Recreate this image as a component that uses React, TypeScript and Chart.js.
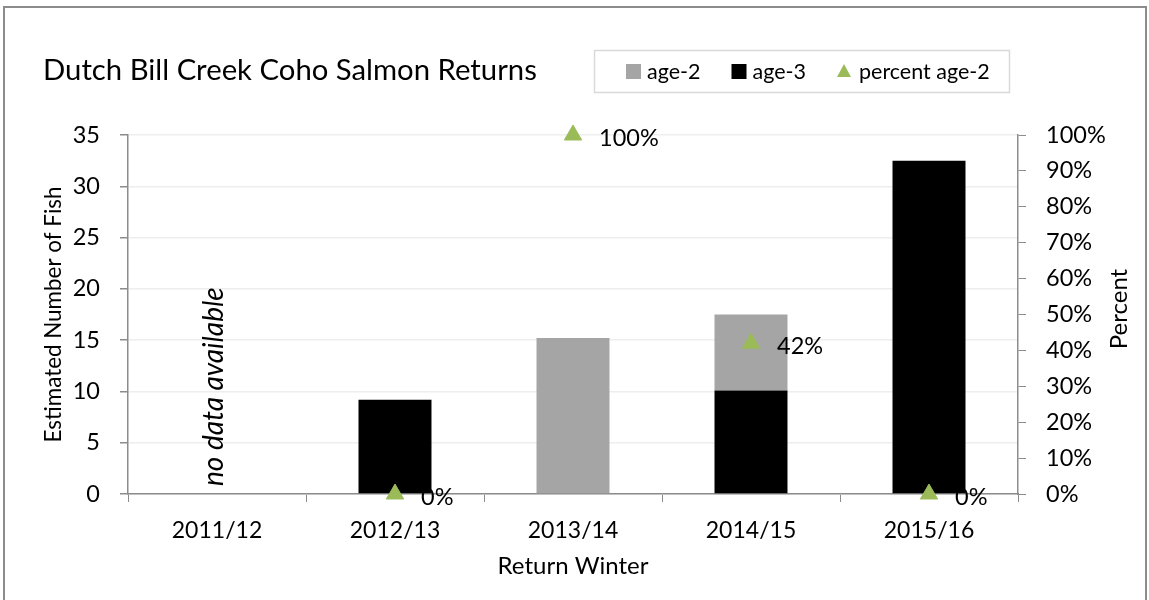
import React, { useEffect, useRef } from "react";
import { Chart, registerables } from "chart.js";

Chart.register(...registerables);

// ---- data ----
const categories = ["2011/12", "2012/13", "2013/14", "2014/15", "2015/16"];
const age3Values = [null, 9.2, 0, 10.1, 32.5];
const age2Values = [null, 0, 15.2, 7.4, 0];
const percentAge2 = [null, 0, 1, 0.42, 0];

const fishAxisMin = 0;
const fishAxisMax = 35;
const fishAxisStep = 5;
const percentAxisMin = 0;
const percentAxisMax = 1;
const percentAxisStep = 0.1;

const chartTitle = "Dutch Bill Creek Coho Salmon Returns";
const xAxisTitle = "Return Winter";
const yAxisTitle = "Estimated Number of Fish";
const y1AxisTitle = "Percent";
const noDataNote = "no data available";
const seriesNames = ["age-3", "age-2", "percent age-2"];
const legendOrder = [1, 0, 2];

// ---- styles ----
const FONT = "Lato, 'DejaVu Sans', sans-serif";
const AXIS_GRAY = "#8c8c8c";
const GRID_GRAY = "#eeeeee";
const COLOR_AGE3 = "#000000";
const COLOR_AGE2 = "#a5a5a5";
const COLOR_PCT = "#9bbb59";

const pctLabel = (v: number) => Math.round(v * 100) + "%";

const decorPlugin = {
  id: "decor",
  beforeDraw(chart: any) {
    const ctx = chart.ctx;
    ctx.save();
    ctx.fillStyle = "#ffffff";
    ctx.fillRect(0, 0, chart.width, chart.height);
    ctx.strokeStyle = AXIS_GRAY;
    ctx.lineWidth = 2;
    ctx.beginPath();
    ctx.moveTo(4, 640);
    ctx.lineTo(4, 7);
    ctx.lineTo(1146, 7);
    ctx.lineTo(1146, 640);
    ctx.stroke();
    ctx.restore();
  },
  afterDatasetsDraw(chart: any) {
    const ctx = chart.ctx;
    const meta = chart.getDatasetMeta(2);
    const data = chart.data.datasets[2].data;
    ctx.save();
    ctx.font = `23.5px ${FONT}`;
    ctx.fillStyle = "#000";
    ctx.textAlign = "left";
    ctx.textBaseline = "middle";
    meta.data.forEach((pt: any, i: number) => {
      const v = data[i];
      if (v === null || v === undefined) return;
      ctx.fillText(pctLabel(v), pt.x + 26, pt.y + 3);
    });
    ctx.restore();
  },
  afterDraw(chart: any) {
    const ctx = chart.ctx;
    ctx.save();
    // title
    ctx.fillStyle = "#000";
    ctx.font = `29.3px ${FONT}`;
    ctx.textAlign = "left";
    ctx.textBaseline = "middle";
    ctx.fillText(chartTitle, 43, 71);

    // legend box
    ctx.strokeStyle = "#d9d9d9";
    ctx.lineWidth = 1.5;
    ctx.strokeRect(594.5, 50.5, 415, 42);
    ctx.font = `21.5px ${FONT}`;
    let x = 626;
    const cy = 71;
    legendOrder.forEach((di) => {
      const ds = chart.data.datasets[di];
      if (di === 2) {
        ctx.fillStyle = COLOR_PCT;
        ctx.beginPath();
        ctx.moveTo(x + 7, cy - 7);
        ctx.lineTo(x + 14, cy + 6);
        ctx.lineTo(x, cy + 6);
        ctx.closePath();
        ctx.fill();
        x += 22;
      } else {
        ctx.fillStyle = ds.backgroundColor;
        ctx.fillRect(x, cy - 7, 15, 15);
        x += 21;
      }
      ctx.fillStyle = "#000";
      ctx.fillText(ds.label, x, cy + 1);
      x += ctx.measureText(ds.label).width + 31;
    });

    // right axis title (reads bottom-to-top)
    ctx.save();
    ctx.translate(1119, 309);
    ctx.rotate(-Math.PI / 2);
    ctx.textAlign = "center";
    ctx.textBaseline = "middle";
    ctx.font = `24px ${FONT}`;
    ctx.fillStyle = "#000";
    ctx.fillText(y1AxisTitle, 0, 0);
    ctx.restore();

    // no data note
    const xs = chart.scales.x;
    const area = chart.chartArea;
    ctx.save();
    ctx.translate(xs.getPixelForValue(0) - 3, area.bottom - 8);
    ctx.rotate(-Math.PI / 2);
    ctx.textAlign = "left";
    ctx.textBaseline = "middle";
    ctx.font = `italic 28px ${FONT}`;
    ctx.fillStyle = "#000";
    ctx.fillText(noDataNote, 0, 0);
    ctx.restore();

    ctx.restore();
  },
};

export default function App() {
  const canvasRef = useRef<HTMLCanvasElement | null>(null);

  useEffect(() => {
    document.body.style.margin = "0";
    const canvas = canvasRef.current;
    if (!canvas) return;
    const chart = new Chart(canvas, {
      type: "bar",
      data: {
        labels: categories,
        datasets: [
          {
            type: "bar",
            label: seriesNames[0],
            data: age3Values as any,
            backgroundColor: COLOR_AGE3,
            yAxisID: "y",
            barPercentage: 0.41,
            categoryPercentage: 1,
            stack: "fish",
            order: 1,
          },
          {
            type: "bar",
            label: seriesNames[1],
            data: age2Values as any,
            backgroundColor: COLOR_AGE2,
            yAxisID: "y",
            barPercentage: 0.41,
            categoryPercentage: 1,
            stack: "fish",
            order: 1,
          },
          {
            type: "line",
            label: seriesNames[2],
            data: percentAge2 as any,
            yAxisID: "y1",
            showLine: false,
            pointStyle: "triangle",
            pointRadius: 10,
            pointBackgroundColor: COLOR_PCT,
            pointBorderColor: COLOR_PCT,
            pointBorderWidth: 1,
            backgroundColor: COLOR_PCT,
            borderColor: COLOR_PCT,
            clip: false as any,
            order: 0,
          } as any,
        ],
      },
      options: {
        responsive: false,
        animation: false,
        devicePixelRatio: 1,
        layout: { padding: { left: 0, right: 0, top: 135, bottom: 0 } },
        plugins: {
          legend: { display: false },
          title: { display: false },
          tooltip: { enabled: false },
        },
        scales: {
          x: {
            stacked: true,
            grid: {
              offset: true,
              drawOnChartArea: false,
              drawTicks: true,
              tickLength: 8,
              tickColor: AXIS_GRAY,
              color: AXIS_GRAY,
            },
            border: { display: true, color: AXIS_GRAY, width: 1.5 },
            ticks: {
              color: "#000",
              font: { family: FONT, size: 23 },
              padding: 15,
              maxRotation: 0,
            },
            title: {
              display: true,
              text: xAxisTitle,
              color: "#000",
              font: { family: FONT, size: 24 },
              padding: { top: 0, bottom: 19 },
            },
            afterFit: (s: any) => {
              s.height = 106;
            },
          },
          y: {
            stacked: true,
            position: "left",
            min: fishAxisMin,
            max: fishAxisMax,
            ticks: {
              stepSize: fishAxisStep,
              color: "#000",
              font: { family: FONT, size: 23.5 },
              padding: 20,
            },
            grid: {
              color: GRID_GRAY,
              lineWidth: 1.5,
              tickLength: 8,
              tickColor: AXIS_GRAY,
            },
            border: { display: true, color: AXIS_GRAY, width: 1.5 },
            title: {
              display: true,
              text: yAxisTitle,
              color: "#000",
              font: { family: FONT, size: 22.4 },
              padding: { top: 40, bottom: 0 },
            },
            afterFit: (s: any) => {
              s.width = 128;
            },
          },
          y1: {
            position: "right",
            min: percentAxisMin,
            max: percentAxisMax,
            ticks: {
              stepSize: percentAxisStep,
              color: "#000",
              font: { family: FONT, size: 23.5 },
              padding: 20,
              callback: (v: any) => pctLabel(Number(v)),
            },
            grid: {
              drawOnChartArea: false,
              tickLength: 8,
              tickColor: AXIS_GRAY,
            },
            border: { display: true, color: AXIS_GRAY, width: 1.5 },
            afterFit: (s: any) => {
              s.width = 131;
            },
          },
        },
      },
      plugins: [decorPlugin],
    });
    return () => chart.destroy();
  }, []);

  return (
    <div style={{ position: "absolute", left: 0, top: 0, width: 1149, height: 600 }}>
      <canvas ref={canvasRef} width={1149} height={600} />
    </div>
  );
}
